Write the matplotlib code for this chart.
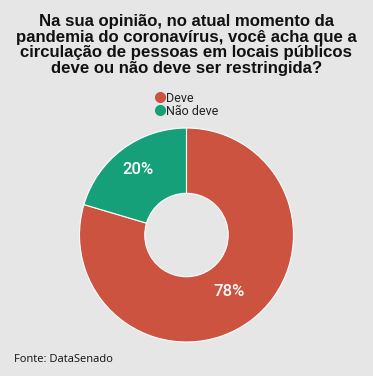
import matplotlib.pyplot as plt
from matplotlib.lines import Line2D
import numpy as np

# data
categories = ["Deve", "Não deve"]
values = [78, 20]
colors = ["#CC5340", "#16A07A"]

bg = "#E6E6E6"
title = ("Na sua opinião, no atual momento da\n"
         "pandemia do coronavírus, você acha que a\n"
         "circulação de pessoas em locais públicos\n"
         "deve ou não deve ser restringida?")

fig = plt.figure(figsize=(3.73, 3.76), dpi=100, facecolor=bg)

fig.text(0.5, 0.963, title, ha="center", va="top", fontsize=12.1,
         fontweight="bold", family="Liberation Sans", linespacing=1.05, color="#111111")

ax = fig.add_axes([0.2131, 0.0904, 0.5737, 0.5691])
ax.set_facecolor(bg)
wedges, _ = ax.pie(values, colors=colors, startangle=90, counterclock=False,
                   radius=1, wedgeprops=dict(width=0.61, edgecolor="white", linewidth=0.8))
ax.set_xlim(-1, 1)
ax.set_ylim(-1, 1)
ax.set_aspect("equal")
ax.axis("off")

# percent labels
label_r = [0.66, 0.76]
for w, v, r in zip(wedges, values, label_r):
    ang = np.deg2rad((w.theta1 + w.theta2) / 2)
    ax.text(r * np.cos(ang), r * np.sin(ang), f"{v}%", ha="center", va="center",
            color="white", fontsize=12, family="Roboto", fontweight="medium")

handles = [Line2D([], [], marker="o", linestyle="", markersize=7,
                  markerfacecolor=c, markeredgecolor=c) for c in colors]
fig.legend(handles, categories, loc="center", bbox_to_anchor=(0.5, 0.722),
           frameon=False, handletextpad=0.05, labelspacing=0.0, handlelength=0.8,
           prop={"family": "Roboto", "size": 9}, labelcolor="#222222")

fig.text(0.038, 0.036, "Fonte: DataSenado", fontsize=8, family="Open Sans", color="#111111")

fig.savefig("out.png", dpi=100, facecolor=bg)
